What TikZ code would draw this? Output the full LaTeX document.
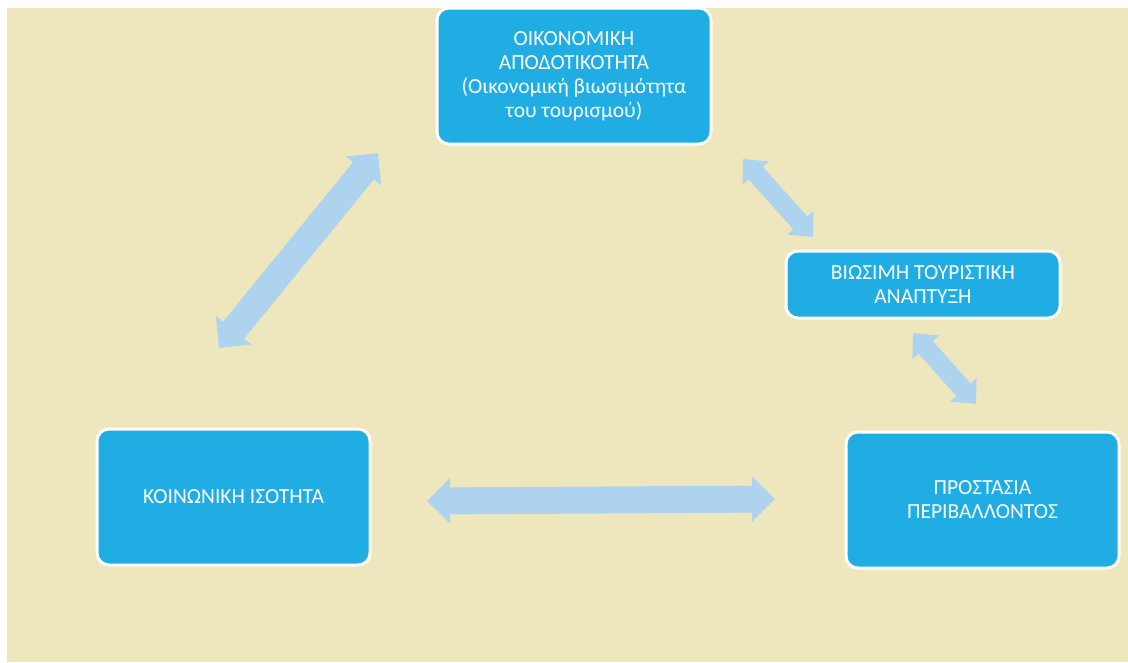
\documentclass[tikz,border=0pt]{standalone}
\usepackage{fontspec}
\setmainfont{Carlito}
\usetikzlibrary{arrows.meta}
\definecolor{bgbeige}{HTML}{EEE6BD}
\definecolor{boxblue}{HTML}{1FADE4}
\definecolor{arrowblue}{HTML}{ADD3EF}
\tikzset{
	box/.style={rectangle, rounded corners=12pt, fill=boxblue, draw=white, line width=3pt,
		text=white, align=center, inner sep=0pt, font=\fontsize{21.5}{24}\selectfont},
	bigarrow/.style={draw=arrowblue, line width=27pt,
		{Triangle[width=44pt,length=23pt]}-{Triangle[width=44pt,length=23pt]}},
	smallarrow/.style={draw=arrowblue, line width=19pt,
		{Triangle[width=34pt,length=19pt]}-{Triangle[width=34pt,length=19pt]}},
}

\begin{document}
\begin{tikzpicture}[x=1pt,y=-1pt]
		\useasboundingbox (0,0) rectangle (1128,662);
		\fill[bgbeige] (7,8) rectangle (1128,662);
		\node[box, minimum width=274pt, minimum height=136pt] (econ) at (574,76)
			{ΟΙΚΟΝΟΜΙΚΗ\\ΑΠΟΔΟΤΙΚΟΤΗΤΑ\\(Οικονομική βιωσιμότητα\\του τουρισμού)};
		\node[box, minimum width=274pt, minimum height=67pt] (sust) at (923,284.5)
			{ΒΙΩΣΙΜΗ ΤΟΥΡΙΣΤΙΚΗ\\ΑΝΑΠΤΥΞΗ};
		\node[box, minimum width=273pt, minimum height=136pt] (soc) at (233.5,497)
			{ΚΟΙΝΩΝΙΚΗ ΙΣΟΤΗΤΑ};
		\node[box, minimum width=273pt, minimum height=136pt] (env) at (982.5,500)
			{ΠΡΟΣΤΑΣΙΑ\\ΠΕΡΙΒΑΛΛΟΝΤΟΣ};
		% arrow ends
		\coordinate (soc-up) at (219,348);
		\coordinate (econ-dl) at (378,153);
		\coordinate (econ-dr) at (743,159);
		\coordinate (sust-ul) at (813,237);
		\coordinate (sust-dr) at (913,333);
		\coordinate (env-up) at (976,404);
		\coordinate (soc-r) at (427,501);
		\coordinate (env-l) at (775,499);
		\draw[bigarrow] (soc-up) -- (econ-dl);
		\draw[bigarrow] (soc-r) -- (env-l);
		\draw[smallarrow] (econ-dr) -- (sust-ul);
		\draw[smallarrow] (sust-dr) -- (env-up);
	\end{tikzpicture}
\end{document}
